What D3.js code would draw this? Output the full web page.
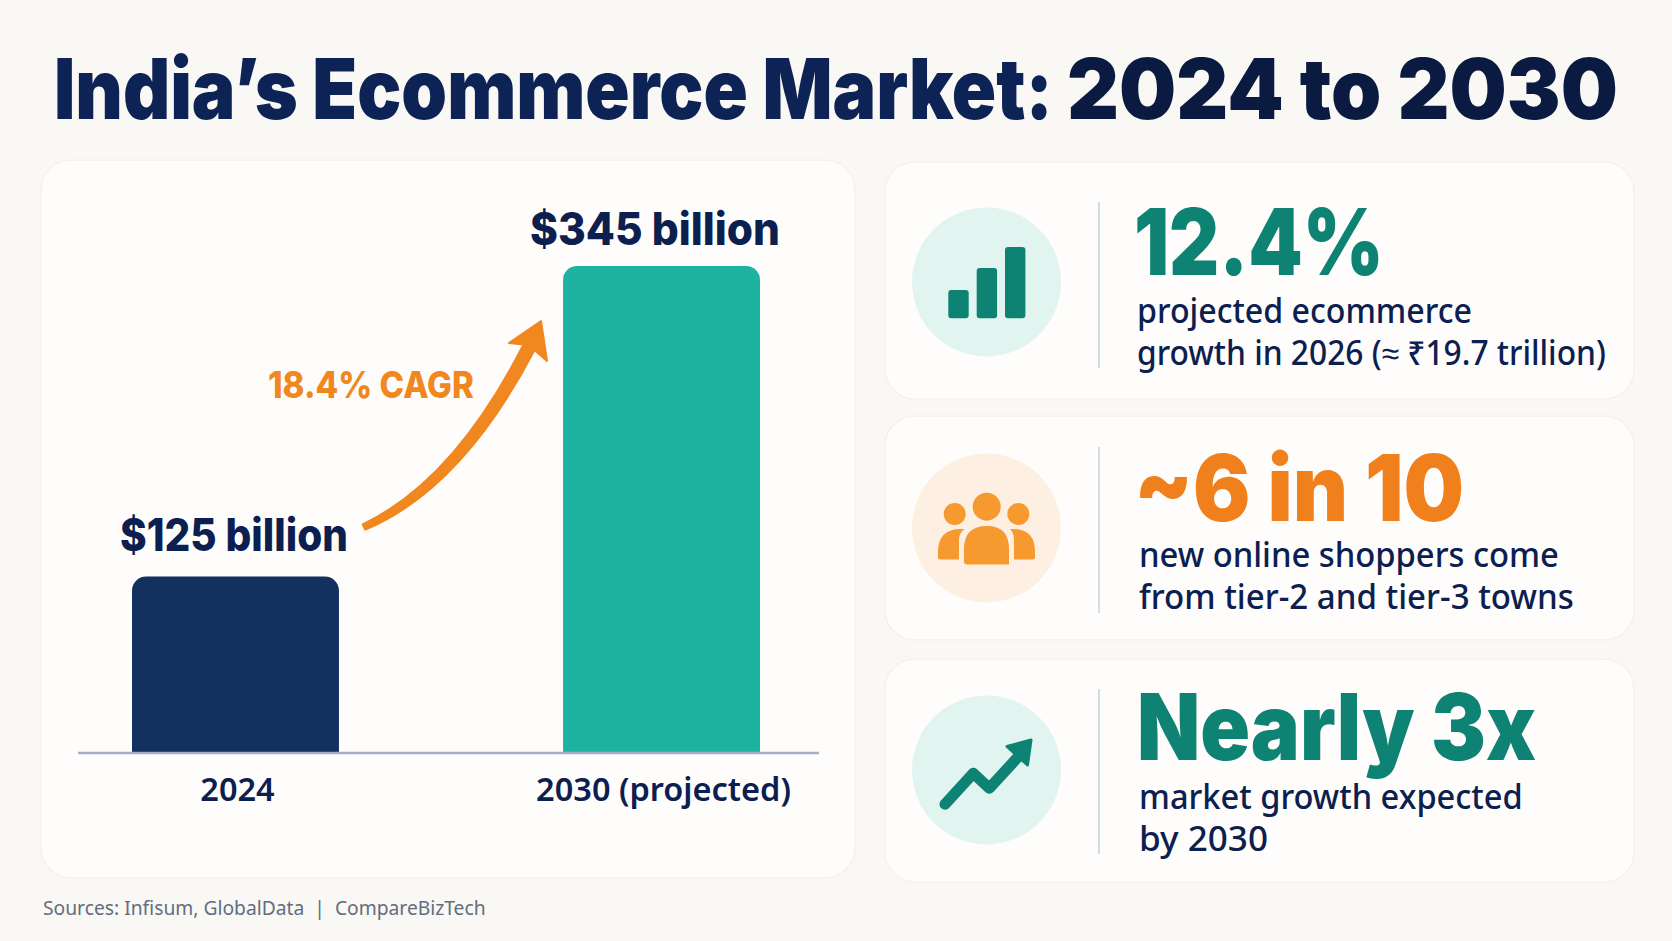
<!DOCTYPE html>
<html>
<head>
<meta charset="utf-8">
<script src="https://cdn.jsdelivr.net/npm/d3@7"></script>
<style>
  html, body { margin: 0; padding: 0; background: #f9f8f4; }
  svg { display: block; }
  text { font-family: "Noto Sans", sans-serif; }
  text.heavy { font-family: "Inter", "Noto Sans", sans-serif; }
</style>
</head>
<body>
<svg id="chart" width="1672" height="941"></svg>
<script>
// chart values
const years = ['2024', '2030 (projected)'];
const marketSize = [125, 345];
const marketLabels = ['$125 billion', '$345 billion'];
const cagrLabel = '18.4% CAGR';
const titleParts = ['India\u2019s Ecommerce Market:', '2024 to 2030'];
const statHeads = ['12.4%', '~6 in 10', 'Nearly 3x'];
const statLinesA = ['projected ecommerce', 'new online shoppers come', 'market growth expected'];
const statLinesB = ['growth in 2026 (\u2248 \u20b919.7 trillion)', 'from tier-2 and tier-3 towns', 'by 2030'];
const sourceNote = 'Sources: Infisum, GlobalData  |  CompareBizTech';

const navy = '#0c2050', teal = '#0e8374', orange = '#ef801b';

let svg = d3.select('#chart');

function addText(str, x, y, size, weight, color, width) {
	let t = svg.append('text')
		.text(str)
		.attr('font-size', size)
		.attr('font-weight', weight)
		.attr('fill', color)
		.style('white-space', 'pre');
	if (weight >= 700) {
		t.attr('class', 'heavy');
	}
	// squeeze or stretch to the width measured on the picture
	let natural = t.node().getComputedTextLength();
	t.attr('transform', 'translate(' + x + ',' + y + ') scale(' + (width / natural) + ',1)');
	return t;
}

function addCard(x, y, w, h) {
	svg.append('rect')
		.attr('x', x).attr('y', y)
		.attr('width', w).attr('height', h)
		.attr('rx', 30)
		.attr('fill', '#fefdfb')
		.attr('stroke', '#f4f2ec')
		.attr('stroke-width', 1.5);
}

// title
addText(titleParts[0], 54, 119, 84, 900, '#0d2356', 999);
addText(titleParts[1], 1067, 119, 84, 900, '#0a1a40', 551);

// left card: the bar chart
addCard(41, 160, 814, 718);

let x = d3.scaleBand().domain(years).range([134.5, 762.5]).paddingInner(0.526);
let y = d3.scaleLinear().domain([0, 345]).range([753, 266]);
const barColors = d3.scaleOrdinal().domain(years).range(['#12315f', '#1eb3a0']);

function barPath(d, i) {
	// the first bar is a little wider than the second on the picture
	let grow = i == 0 ? 2.5 : -2.5;
	let x0 = x(years[i]) - grow, x1 = x(years[i]) + x.bandwidth() + grow;
	let top = y(d), bottom = y(0), r = 14;
	let p = d3.path();
	p.moveTo(x0, bottom);
	p.lineTo(x0, top + r);
	p.arcTo(x0, top, x0 + r, top, r);
	p.lineTo(x1 - r, top);
	p.arcTo(x1, top, x1, top + r, r);
	p.lineTo(x1, bottom);
	p.closePath();
	return p.toString();
}

svg.selectAll('.bar')
	.data(marketSize)
	.enter().append('path')
	.attr('class', 'bar')
	.attr('d', barPath)
	.attr('fill', function (d, i) { return barColors(years[i]); });

let axis = svg.append('g')
	.attr('transform', 'translate(0,' + y(0) + ')')
	.call(d3.axisBottom(x).tickSize(0).tickPadding(25));
axis.select('.domain').remove();
axis.selectAll('text')
	.attr('dx', 2)
	.attr('font-size', 32.5)
	.attr('font-weight', 600)
	.attr('fill', navy)
	.style('font-family', '"Noto Sans", sans-serif');
axis.append('line')
	.attr('x1', 78).attr('x2', 819)
	.attr('stroke', '#a9aec8')
	.attr('stroke-width', 2.5);

addText(marketLabels[0], 120, y(marketSize[0]) - 26, 45, 800, navy, 228);
addText(marketLabels[1], 530, y(marketSize[1]) - 21.5, 45, 800, navy, 250);

// growth arrow, drawn as a tapered shape
let arrow = d3.path();
arrow.moveTo(362.7, 524.3);
arrow.quadraticCurveTo(454, 481, 523.5, 344.5);
arrow.lineTo(509, 343);
arrow.lineTo(541, 321);
arrow.lineTo(547, 361);
arrow.lineTo(534.5, 350);
arrow.quadraticCurveTo(462, 489, 365.3, 529.7);
arrow.closePath();
svg.append('path')
	.attr('d', arrow.toString())
	.attr('fill', '#f0871f')
	.attr('stroke', '#f0871f')
	.attr('stroke-width', 2)
	.attr('stroke-linejoin', 'round');
addText(cagrLabel, 268, 398, 37, 800, '#f0871f', 206);

// right cards
const cardTop = [162, 416, 659];
const cardHeight = [237, 224, 223];
const circleY = [282, 528, 770];
const dividerY = [[202, 368], [447, 613], [689, 854]];
const circleFill = ['#e1f4f0', '#fdf0e2', '#e1f4f0'];
const headColor = [teal, orange, teal];
const headX = [1134, 1134, 1137];
const headWidth = [250, 330, 399];
const headY = [275, 521, 760];
const lineAY = [323, 567, 809];
const lineBY = [365, 609, 851];
const lineAWidth = [335, 420, 384];
const lineBWidth = [469, 435, 129];
const textX = [1137, 1139, 1139];

statHeads.forEach(function (head, i) {
	addCard(885, cardTop[i], 749, cardHeight[i]);
	svg.append('circle')
		.attr('cx', 986.5).attr('cy', circleY[i]).attr('r', 74.5)
		.attr('fill', circleFill[i]);
	svg.append('line')
		.attr('x1', 1099).attr('x2', 1099)
		.attr('y1', dividerY[i][0]).attr('y2', dividerY[i][1])
		.attr('stroke', i == 1 ? '#d5d9df' : '#c5dbe0')
		.attr('stroke-width', 1.8);
	addText(head, headX[i], headY[i], 92, 900, headColor[i], headWidth[i]);
	addText(statLinesA[i], textX[i], lineAY[i], 33.5, 500, navy, lineAWidth[i]);
	addText(statLinesB[i], textX[i], lineBY[i], 33.5, 500, navy, lineBWidth[i]);
});

// icon: small bar chart
[[948.3, 290], [976.7, 268], [1005, 247]].forEach(function (b) {
	svg.append('rect')
		.attr('x', b[0]).attr('y', b[1])
		.attr('width', 20.4).attr('height', 318.3 - b[1])
		.attr('rx', 3)
		.attr('fill', teal);
});

// icon: three people
const peopleFill = '#f6992f';
[[954.7, 514, 11], [986.7, 506.7, 14], [1018.3, 514, 11]].forEach(function (h) {
	svg.append('circle').attr('cx', h[0]).attr('cy', h[1]).attr('r', h[2]).attr('fill', peopleFill);
});
svg.append('path')
	.attr('d', 'M964.5 529 H961 Q938 529 938 552 V557 Q938 559.5 940.5 559.5 H959 V540 Q959 533 964.5 529 Z')
	.attr('fill', peopleFill);
svg.append('path')
	.attr('d', 'M1010 529 H1013 Q1035 529 1035 552 V557 Q1035 559.5 1032.5 559.5 H1014 V540 Q1014 533 1010 529 Z')
	.attr('fill', peopleFill);
svg.append('path')
	.attr('d', 'M964 564.5 V549 Q964 526 987 526 Q1009 526 1009 549 V564.5 Q1009 564.5 1006 564.5 H967 Q964 564.5 964 561 Z')
	.attr('fill', peopleFill);

// icon: trend arrow
let trend = d3.line();
svg.append('path')
	.attr('d', trend([[945, 804.3], [973.3, 773.3], [989.3, 788.3], [1018, 757]]))
	.attr('fill', 'none')
	.attr('stroke', teal)
	.attr('stroke-width', 11)
	.attr('stroke-linecap', 'round')
	.attr('stroke-linejoin', 'round');
svg.append('path')
	.attr('d', trend([[1007, 746.5], [1031, 740], [1027.5, 765]]) + 'Z')
	.attr('fill', teal)
	.attr('stroke', teal)
	.attr('stroke-width', 3)
	.attr('stroke-linejoin', 'round');

// footer
addText(sourceNote, 43, 915, 20.5, 400, '#626d80', 443);
</script>
</body>
</html>
